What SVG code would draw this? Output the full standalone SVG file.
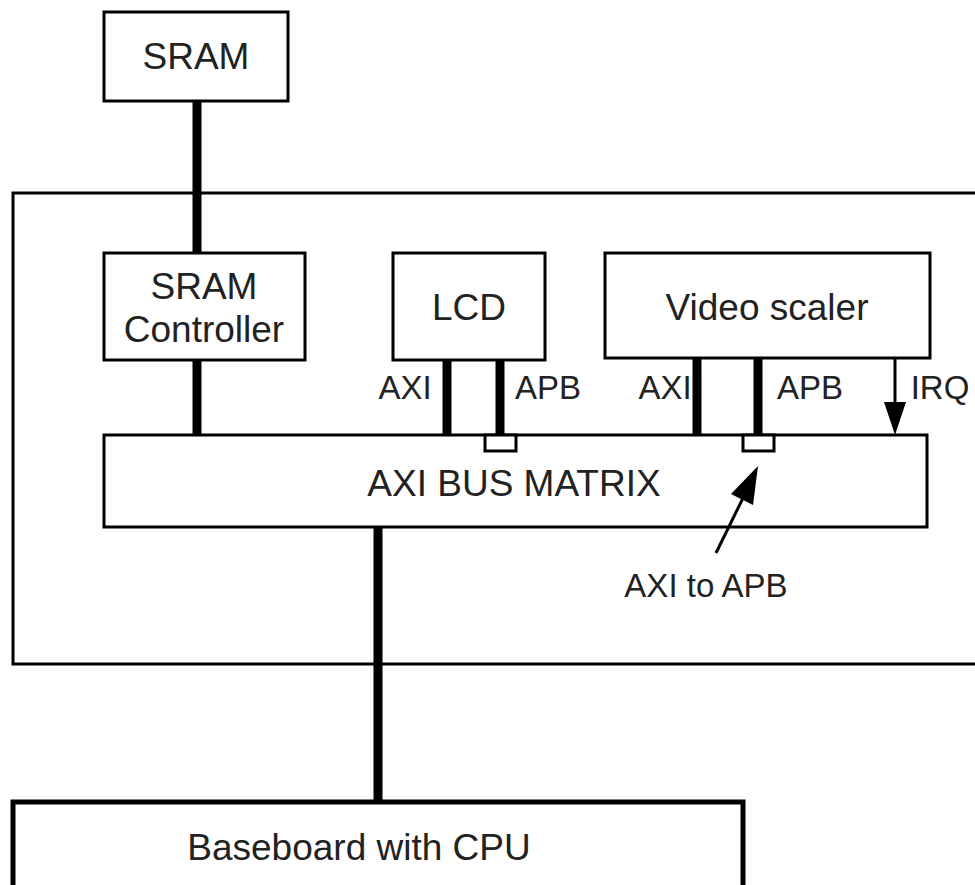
<svg xmlns="http://www.w3.org/2000/svg" width="975" height="885" viewBox="0 0 975 885">
<style>
.box{fill:#fff;stroke:#000;stroke-width:3}
.t{font-family:"Liberation Sans",Arial,sans-serif;font-size:37px;fill:#222;text-anchor:middle}
.l{font-family:"Liberation Sans",Arial,sans-serif;font-size:33px;fill:#222;text-anchor:middle}
.bus{stroke:#000;stroke-width:9;fill:none}
.thin{stroke:#000;stroke-width:3;fill:none}
</style>
<rect width="975" height="885" fill="#fff"/>
<g id="board">
<path d="M990,193 L13,193 L13,664 L990,664" class="thin"/>
</g>
<g id="sram">
<rect x="104" y="12" width="184" height="89" class="box"/>
<text x="196" y="69" class="t">SRAM</text>
</g>
<g id="sram-controller">
<rect x="104" y="253" width="201" height="107" class="box"/>
<text x="204" y="299" class="t">SRAM</text>
<text x="204" y="342" class="t">Controller</text>
</g>
<g id="lcd">
<rect x="393" y="253" width="152" height="107" class="box"/>
<text x="469" y="320" class="t">LCD</text>
</g>
<g id="video-scaler">
<rect x="605" y="253" width="325" height="105" class="box"/>
<text x="767" y="320" class="t">Video scaler</text>
</g>
<g id="axi-bus-matrix">
<rect x="104" y="435" width="823" height="92" class="box"/>
<text x="514" y="496" class="t">AXI BUS MATRIX</text>
<rect x="485" y="435" width="31" height="16" class="box"/>
<rect x="743" y="435" width="31" height="16" class="box"/>
</g>
<g id="baseboard">
<path d="M13,885 L13,802 L743,802 L743,885" fill="#fff" stroke="#000" stroke-width="5"/>
<text x="359" y="860" class="t">Baseboard with CPU</text>
</g>
<g id="connectors">
<line x1="197" y1="101" x2="197" y2="253" class="bus"/>
<line x1="197" y1="360" x2="197" y2="435" class="bus"/>
<line x1="447" y1="360" x2="447" y2="434" class="bus"/>
<line x1="500" y1="360" x2="500" y2="434" class="bus"/>
<line x1="697" y1="358" x2="697" y2="434" class="bus"/>
<line x1="758" y1="358" x2="758" y2="434" class="bus"/>
<line x1="378" y1="527" x2="378" y2="800" class="bus"/>
<line x1="895" y1="358" x2="895" y2="404" class="thin"/>
<path d="M884,402 L906,402 L895,435 z" fill="#000"/>
<line x1="716" y1="553" x2="744" y2="496" class="thin"/>
<path d="M731,494 L758,466 L753,505 z" fill="#000"/>
</g>
<g id="labels">
<text x="405" y="399" class="l">AXI</text>
<text x="548" y="399" class="l">APB</text>
<text x="665" y="399" class="l">AXI</text>
<text x="810" y="399" class="l">APB</text>
<text x="940" y="399" class="l">IRQ</text>
<text x="706" y="597" class="l">AXI to APB</text>
</g>
</svg>
